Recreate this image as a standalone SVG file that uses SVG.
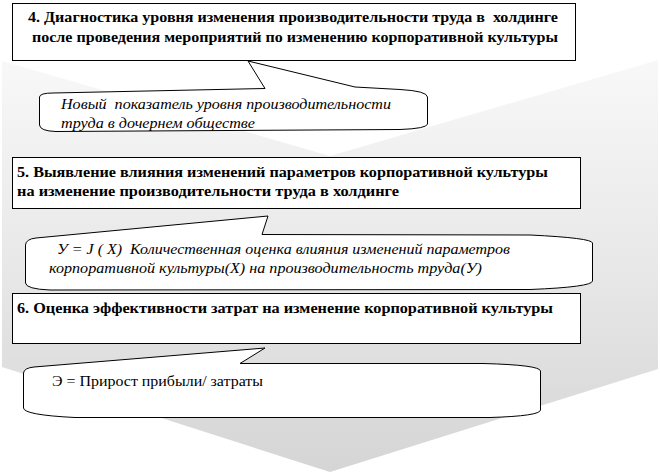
<svg xmlns="http://www.w3.org/2000/svg" width="660" height="474" viewBox="0 0 660 474">
  <style>
    .box { fill: #ffffff; stroke: #000000; stroke-width: 1; }
    .call { fill: #ffffff; stroke: #000000; stroke-width: 1; stroke-linejoin: miter; }
    .bt { font-family: 'Liberation Serif', 'Times New Roman', serif; font-weight: bold; font-size: 14px; fill: #000000; }
    .it { font-family: 'Liberation Serif', 'Times New Roman', serif; font-style: italic; font-size: 14px; fill: #000000; }
    .rt { font-family: 'Liberation Serif', 'Times New Roman', serif; font-size: 15px; fill: #000000; }
  </style>
  <defs>
    <linearGradient id="chevGrad" x1="0" y1="0" x2="0" y2="1">
      <stop offset="0" stop-color="#f8f8f8"/>
      <stop offset="0.5" stop-color="#e8e8e8"/>
      <stop offset="1" stop-color="#d5d5d5"/>
    </linearGradient>
  </defs>
  <rect x="0" y="0" width="660" height="474" fill="#ffffff"/>
  <g id="background">
    <polygon points="2,61 330,156 658,60 658,369 330,472 2,367" fill="url(#chevGrad)"/>
  </g>

  <g id="step4">
    <rect class="box" x="12.5" y="3.5" width="563" height="57"/>
    <text class="bt" x="28" y="22" textLength="530" lengthAdjust="spacingAndGlyphs" xml:space="preserve">4. Диагностика уровня изменения производительности труда в  холдинге</text>
    <text class="bt" x="32" y="42" textLength="526" lengthAdjust="spacingAndGlyphs">после проведения мероприятий по изменению корпоративной культуры</text>
  </g>
  <g id="note4">
    <path class="call" d="M39.5,97 Q40,93 53,93 L265,88.5 L248,61 L355,87 L400,89.5 Q427,91 427.5,97 L427.5,124 Q427,128.5 400,129.5 L56,131.5 Q40,131 39.5,125 Z"/>
    <text class="it" x="61" y="109" textLength="330" lengthAdjust="spacingAndGlyphs" xml:space="preserve">Новый  показатель уровня производительности</text>
    <text class="it" x="61" y="128" textLength="194" lengthAdjust="spacingAndGlyphs">труда в дочернем обществе</text>
  </g>

  <g id="step5">
    <rect class="box" x="12.5" y="157.5" width="568" height="51"/>
    <text class="bt" x="17" y="177" textLength="531" lengthAdjust="spacingAndGlyphs">5. Выявление влияния изменений параметров корпоративной культуры</text>
    <text class="bt" x="17" y="196" textLength="382" lengthAdjust="spacingAndGlyphs">на изменение производительности труда в холдинге</text>
  </g>
  <g id="note5">
    <path class="call" d="M25.5,245 Q26,239 36,238 L268,216 L262,234.5 L530,235 Q592,238 592.5,243 L592.5,281 Q592,287 530,289.5 L50,290 Q26,289 25.5,283 Z"/>
    <text class="it" x="57" y="254" textLength="453" lengthAdjust="spacingAndGlyphs" xml:space="preserve">У = J ( X)  Количественная оценка влияния изменений параметров</text>
    <text class="it" x="49" y="273" textLength="433" lengthAdjust="spacingAndGlyphs">корпоративной культуры(X) на производительность труда(У)</text>
  </g>

  <g id="step6">
    <rect class="box" x="12.5" y="293.5" width="568" height="50"/>
    <text class="bt" x="17" y="313" textLength="536" lengthAdjust="spacingAndGlyphs">6. Оценка эффективности затрат на изменение корпоративной культуры</text>
  </g>
  <g id="note6">
    <path class="call" d="M23.5,373 Q24,368 34,367 L265,348 L240,363.5 L483,363.5 Q540,365 540.5,371 L540.5,410 Q540,416 490,417.5 L75,417.5 Q24,415 23.5,408 Z"/>
    <text class="rt" x="52" y="386" textLength="211" lengthAdjust="spacingAndGlyphs">Э = Прирост прибыли/ затраты</text>
  </g>
</svg>
